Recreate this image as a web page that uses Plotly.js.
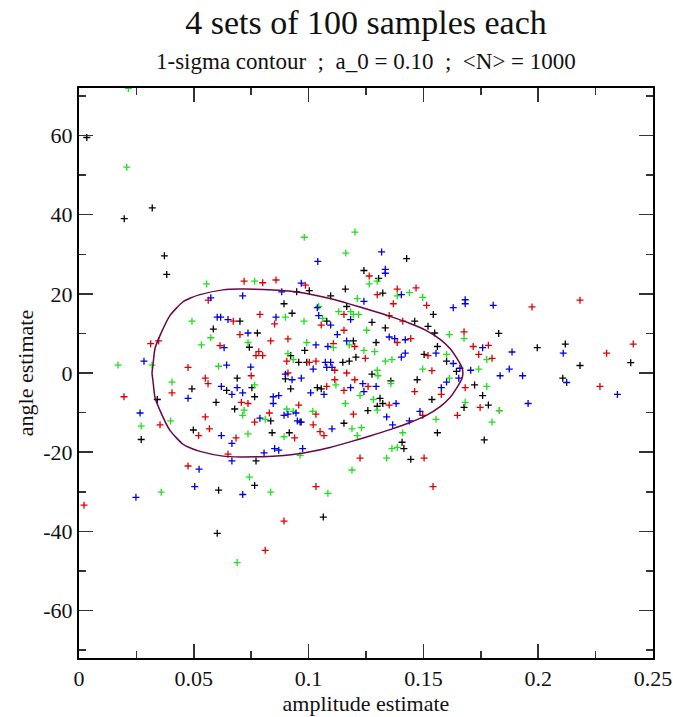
<!DOCTYPE html>
<html>
<head>
<meta charset="utf-8">
<script src="https://cdn.plot.ly/plotly-3.0.1.min.js"></script>
<style>html,body{margin:0;padding:0;background:#fff;}#chart{width:673px;height:717px;}</style>
</head>
<body>
<div id="chart"></div>
<script>
// ---- data ----
const blackX = [0.0034,0.0197,0.0319,0.0372,0.0382,0.0948,0.0893,0.0928,0.0701,0.0585,0.0777,0.0742,0.0983,0.0922,0.0957,0.0992,0.1241,0.1305,0.1427,0.1003,0.1160,0.1323,0.1096,0.1166,0.1543,0.1079,0.1276,0.1462,0.1334,0.1520,0.1549,0.1828,0.1294,0.1195,0.1561,0.1503,0.1206,0.1177,0.1601,0.1149,0.1644,0.1276,0.1358,0.1473,0.1723,0.1038,0.1055,0.1311,0.1537,0.1323,0.1299,0.1677,0.1258,0.0963,0.1154,0.1561,0.1407,0.1415,0.1445,0.0689,0.0899,0.0753,0.0492,0.0643,0.0922,0.0765,0.0341,0.0597,0.0678,0.0835,0.0498,0.0841,0.0916,0.0771,0.0271,0.1996,0.2118,0.2182,0.2403,0.2107,0.1758,0.1783,0.1765,0.0765,0.0608,0.1064,0.0602];
const blackY = [59.5,39.0,41.7,29.6,24.9,20.5,17.5,15.1,13.1,11.1,10.1,6.5,5.7,4.4,2.7,2.7,25.9,23.9,28.9,20.8,21.2,20.2,19.5,16.8,14.8,13.1,12.8,13.1,11.4,11.8,10.1,10.0,7.7,8.1,6.7,4.7,4.0,3.0,3.0,2.7,0.4,-0.3,-2.0,-1.7,-3.0,-3.7,-4.0,-6.4,-6.7,-7.7,-8.4,-8.7,-9.5,-12.4,-12.7,-15.1,-17.5,-19.1,-21.8,-1.3,-1.5,-3.7,-4.0,-4.4,-4.0,-6.0,-6.7,-7.4,-9.1,-12.1,-14.4,-15.1,-15.1,-22.2,-16.8,6.4,7.3,1.9,2.6,-1.3,-5.7,-8.1,-16.9,-28.4,-29.6,-36.4,-40.5];

const redX = [0.0719,0.0800,0.0858,0.0986,0.0563,0.0788,0.0672,0.0852,0.0701,0.0910,0.0835,0.0614,0.0312,0.0347,0.0783,0.0771,0.0800,0.0905,0.0475,0.1264,0.1386,0.1468,0.1299,0.1514,0.1369,0.1154,0.1351,0.1410,0.1055,0.1154,0.1677,0.1445,0.1386,0.1108,0.1201,0.1717,0.1520,0.1741,0.1247,0.1003,0.1032,0.1114,0.1537,0.1166,0.1201,0.1114,0.1079,0.1259,0.1154,0.1682,0.1462,0.1578,0.1351,0.1032,0.1195,0.1497,0.1648,0.1020,0.1050,0.1067,0.1224,0.1503,0.0750,0.0910,0.0550,0.0562,0.0405,0.0707,0.0736,0.0957,0.0829,0.0550,0.0765,0.0353,0.0568,0.0521,0.0684,0.0939,0.0649,0.0475,0.0196,0.1973,0.2182,0.2414,0.1799,0.2298,0.2269,0.1747,0.1831,0.1783,0.0022,0.1032,0.0893,0.0811,0.1542];
const redY = [23.2,22.8,23.5,22.2,18.4,14.8,13.1,12.4,9.7,8.6,8.1,6.9,7.4,8.1,5.4,4.4,4.4,3.0,1.4,24.5,21.2,21.5,19.8,17.1,17.5,14.8,14.5,13.1,12.1,10.8,10.4,8.7,7.7,7.4,6.7,6.7,4.4,4.7,3.7,2.7,3.0,0.7,0.6,0.0,-1.7,-1.7,-3.4,-3.4,-4.4,-3.7,-4.7,-5.4,-8.1,-10.4,-10.4,-10.7,-10.7,-13.1,-14.8,-15.8,-21.5,-21.5,-0.7,0.0,-1.3,-2.7,-5.0,-7.4,-7.7,-8.1,-10.1,-11.1,-12.4,-13.1,-14.1,-15.8,-16.4,-16.4,-20.5,-23.5,-6.0,16.7,18.4,7.3,3.7,5.0,-3.4,-8.7,-9.5,7.0,-33.4,-28.7,-37.4,-44.8,-28.7];

const greenX = [0.0215,0.0208,0.0981,0.1202,0.1162,0.0556,0.0765,0.0899,0.0980,0.0492,0.0574,0.0736,0.0992,0.0533,0.0910,0.0933,0.0318,0.0608,0.1299,0.1264,0.1439,0.1386,0.1497,0.1212,0.1044,0.1131,0.1183,0.1195,0.1218,0.1061,0.1253,0.1613,0.1677,0.1108,0.1177,0.1241,0.1288,0.1601,0.1334,0.1363,0.1299,0.1497,0.1741,0.1302,0.1358,0.1613,0.1119,0.1224,0.1282,0.1682,0.1160,0.1299,0.1018,0.1555,0.1189,0.1230,0.1212,0.1410,0.1363,0.1386,0.0963,0.1340,0.1189,0.0405,0.0765,0.0719,0.0713,0.0905,0.0933,0.0811,0.0399,0.0736,0.0893,0.0271,0.0170,0.1776,0.1776,0.1831,0.1799,0.0742,0.0835,0.0358,0.1084,0.0689];
const greenY = [71.9,52.0,34.3,35.6,30.3,22.5,23.2,14.1,13.1,13.1,8.9,7.7,7.7,7.1,4.9,3.4,2.0,1.7,23.2,22.5,20.3,19.5,19.1,18.8,16.8,15.5,15.5,14.8,14.8,13.8,10.8,9.7,8.7,6.4,7.1,5.7,5.4,4.7,3.0,3.4,0.7,1.0,1.0,-0.7,-2.7,-1.3,-3.0,-5.7,-6.7,-7.4,-7.7,-9.4,-9.7,-11.7,-14.1,-13.8,-15.8,-15.1,-19.1,-18.8,-20.8,-21.5,-24.5,-2.3,-3.0,-9.4,-10.7,-9.1,-9.7,-11.7,-12.1,-15.4,-16.1,-13.4,2.0,3.4,-3.4,-9.5,-12.4,-26.3,-30.1,-30.1,-30.4,-47.9];

const blueX = [0.0968,0.0883,0.0713,0.0574,0.0858,0.0602,0.0617,0.0649,0.0736,0.0632,0.0283,0.0643,0.0748,0.1334,0.1334,0.1040,0.1318,0.1404,0.1241,0.1682,0.1682,0.1630,0.1804,0.1038,0.1044,0.1183,0.1096,0.1125,0.1351,0.1375,0.1421,0.1166,0.1032,0.1084,0.1555,0.1421,0.1404,0.1073,0.1096,0.1020,0.1079,0.1102,0.1630,0.1659,0.1706,0.1654,0.1601,0.1578,0.1236,0.1294,0.1183,0.1241,0.1009,0.1067,0.1381,0.1485,0.1340,0.1366,0.1439,0.1102,0.0974,0.0899,0.0928,0.0968,0.0620,0.0689,0.0666,0.0713,0.0870,0.0846,0.0475,0.0846,0.0893,0.0910,0.0945,0.0788,0.0951,0.0968,0.0620,0.0666,0.0852,0.0870,0.0806,0.0666,0.0266,0.1874,0.1834,0.1932,0.1886,0.2109,0.2124,0.2345,0.1956,0.1758,0.0523,0.0713,0.0504,0.0248];
const blueY = [22.7,20.5,19.5,19.0,14.1,14.1,14.1,13.5,10.1,6.4,3.0,2.0,1.5,26.2,25.2,28.2,30.6,19.8,18.1,18.5,17.5,16.5,17.1,16.5,14.5,13.5,12.1,9.7,9.1,8.7,8.4,8.1,7.1,6.7,5.0,5.0,4.0,2.7,2.7,1.0,1.4,1.4,2.4,1.2,0.7,-1.3,-2.3,-3.7,-2.7,-3.4,-3.7,-4.7,-5.0,-5.4,-7.7,-9.7,-11.1,-13.1,-12.1,-14.1,-19.1,-0.3,-1.7,-1.3,-3.4,-3.7,-5.4,-5.0,-5.7,-6.0,-6.4,-7.7,-10.7,-10.4,-10.1,-11.4,-12.1,-12.4,-15.8,-17.8,-19.1,-19.5,-20.2,-22.2,-10.1,1.0,-0.7,-0.7,5.3,5.0,-2.4,-5.4,-7.7,6.4,-24.3,-30.7,-28.7,-31.4];

// 1-sigma contour (closed loop)
const contourX = [0.0318,0.0322,0.0331,0.0353,0.0396,0.0453,0.0483,0.0527,0.0627,0.0701,0.0845,0.0932,0.1006,0.1093,0.1180,0.1267,0.1355,0.1442,0.1507,0.1573,0.1616,0.1646,0.1668,0.1672,
                  0.1668,0.1646,0.1616,0.1573,0.1507,0.1442,0.1355,0.1267,0.1180,0.1093,0.1006,0.0932,0.0845,0.0701,0.0627,0.0527,0.0483,0.0453,0.0396,0.0353,0.0331,0.0322,0.0318];
const contourY = [0,1.9,6.2,9.5,14.5,18.0,18.9,19.8,21.0,21.2,21.0,20.6,19.9,18.8,17.4,15.9,14.3,12.5,10.9,8.5,6.2,3.7,1.4,0,
                  -1.4,-3.7,-6.2,-8.5,-10.9,-12.5,-14.3,-15.9,-17.4,-18.8,-19.9,-20.6,-21.0,-21.2,-21.0,-19.8,-18.9,-18.0,-14.5,-9.5,-6.2,-1.9,0];

const yTickVals = [-60,-40,-20,0,20,40,60];
const yTickText = ['-60','-40','-20','0','20','40','60'];

const titleText = '4 sets of 100 samples each';
const subtitleText = '1-sigma contour  ;  a_0 = 0.10  ;  &lt;N&gt; = 1000';
const xTitle = 'amplitude estimate';
const yTitle = 'angle estimate';

// ---- drawing ----
const FONT = 'Liberation Serif, Times New Roman, serif';
function pts(x, y, color, name) {
  return {
    type: 'scatter', mode: 'markers', x: x, y: y, name: name,
    marker: {symbol: 'cross-thin', size: 5, color: color, line: {color: color, width: 1.3}},
    hoverinfo: 'x+y'
  };
}
const traces = [
  pts(blackX, blackY, '#000000', 'set 1'),
  pts(redX, redY, '#e00000', 'set 2'),
  pts(greenX, greenY, '#22dd22', 'set 3'),
  pts(blueX, blueY, '#0000e0', 'set 4'),
  {type: 'scatter', mode: 'lines', x: contourX, y: contourY, name: 'contour',
   line: {color: '#670748', width: 1.5, shape: 'spline', smoothing: 0.6}}
];

const axisCommon = {
  showgrid: false, zeroline: false, showline: true, linecolor: '#000', linewidth: 2,
  mirror: 'ticks', ticks: 'inside', ticklen: 14, tickwidth: 1.5, tickcolor: '#333',
  tickfont: {family: FONT, size: 22, color: '#111'}
};

const layout = {
  width: 673, height: 717,
  margin: {l: 79, r: 20, t: 88, b: 59},
  paper_bgcolor: '#fff', plot_bgcolor: '#fff',
  font: {family: FONT, color: '#000'},
  showlegend: false,
  title: {text: titleText, font: {family: FONT, size: 34, color: '#111'},
          xref: 'paper', x: 0.5, xanchor: 'center', yref: 'container', y: 0.969, yanchor: 'middle'},
  annotations: [{text: subtitleText, xref: 'paper', yref: 'paper', x: 0.5, y: 1, yshift: 27,
                 xanchor: 'center', yanchor: 'middle', showarrow: false,
                 font: {family: FONT, size: 23, color: '#111'}}],
  xaxis: Object.assign({}, axisCommon, {
    range: [0, 0.25], tick0: 0, dtick: 0.05,
    minor: {dtick: 0.025, ticks: 'inside', ticklen: 7, tickwidth: 1.5, tickcolor: '#333'},
    title: {text: xTitle, font: {family: FONT, size: 22, color: '#111'}, standoff: 1}
  }),
  yaxis: Object.assign({}, axisCommon, {
    range: [-72, 72], tickmode: 'array', tickvals: yTickVals, ticktext: yTickText,
    minor: {dtick: 10, tick0: 0, ticks: 'inside', ticklen: 7, tickwidth: 1.5, tickcolor: '#333'},
    title: {text: yTitle, font: {family: FONT, size: 22, color: '#111'}, standoff: 4}
  })
};

Plotly.newPlot('chart', traces, layout, {displayModeBar: false, staticPlot: true});
</script>
</body>
</html>
